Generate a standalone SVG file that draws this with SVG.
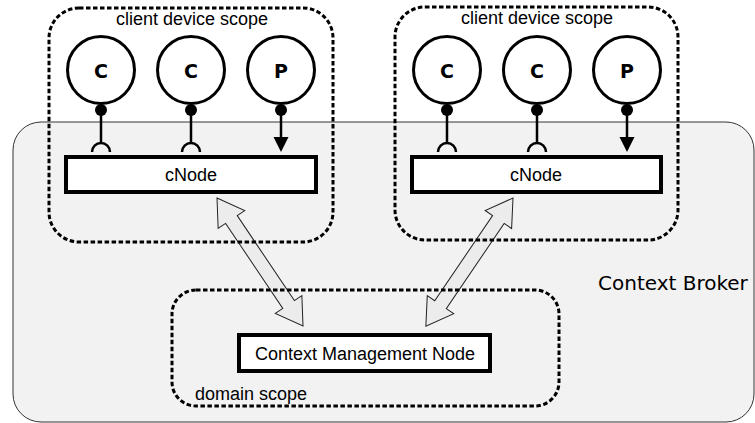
<svg xmlns="http://www.w3.org/2000/svg" width="755" height="423" viewBox="0 0 755 423">
  <defs>
    <style>
      .broker { fill: #f2f2f2; stroke: #333; stroke-width: 1; }
      .scope { fill: none; stroke: #000; stroke-width: 3; stroke-dasharray: 4.5 2.5; }
      .comp { fill: #fff; stroke: #000; stroke-width: 3; }
      .box { fill: #fff; stroke: #000; stroke-width: 4; }
      .lbl { font-family: "Liberation Sans", Arial, sans-serif; font-size: 18px; fill: #000; }
      .big { font-family: "DejaVu Sans", sans-serif; font-size: 20px; fill: #000; }
      .letter { font-family: "DejaVu Sans", sans-serif; font-weight: bold; font-size: 19px; fill: #000; text-anchor: middle; }
      .wire { stroke: #000; stroke-width: 2.5; fill: none; }
      .ball { fill: #000; }
      .dbl { fill: #ececec; stroke: #222; stroke-width: 1; stroke-linejoin: miter; }
    </style>
    <!-- provided interface: ball on the component, line down to a socket -->
    <g id="req">
      <circle class="ball" cx="0" cy="110" r="6"/>
      <line class="wire" x1="0" y1="110" x2="0" y2="143"/>
      <path class="wire" d="M -9 152 A 9 9 0 0 1 9 152"/>
    </g>
    <!-- publishing interface: ball, line and arrowhead into the node -->
    <g id="pub">
      <circle class="ball" cx="0" cy="110" r="6"/>
      <line class="wire" x1="0" y1="110" x2="0" y2="139"/>
      <polygon fill="#000" points="-7.5,137 7.5,137 0,152"/>
    </g>
    <!-- double-headed block arrow, length 155, along +x -->
    <polygon id="dblArrow" class="dbl" points="0,0 26,-16 26,-7 129,-7 129,-16 155,0 129,16 129,7 26,7 26,16"/>
  </defs>

  <g id="context-broker">
    <rect class="broker" x="13" y="122" width="741" height="300" rx="28" ry="28"/>
    <text class="big" x="598" y="290">Context Broker</text>
  </g>

  <g id="connectors">
    <use href="#dblArrow" transform="translate(217,198) rotate(56.1) scale(0.995,1)"/>
    <use href="#dblArrow" transform="translate(513,198) rotate(124.2)"/>
  </g>

  <g id="client-scope-left">
    <rect class="scope" x="49" y="8" width="284" height="234" rx="30" ry="30"/>
    <text class="lbl" x="192" y="25" text-anchor="middle">client device scope</text>
  </g>

  <g id="client-scope-right">
    <rect class="scope" x="395" y="7" width="283" height="233" rx="30" ry="30"/>
    <text class="lbl" x="537" y="24" text-anchor="middle">client device scope</text>
  </g>

  <g id="domain-scope">
    <rect class="scope" x="172" y="290" width="387" height="116" rx="24" ry="24"/>
    <text class="lbl" x="195" y="400">domain scope</text>
  </g>

  <g id="cnode-left">
    <rect class="box" x="66" y="157" width="250" height="35"/>
    <text class="lbl" x="191" y="181" text-anchor="middle">cNode</text>
  </g>

  <g id="cnode-right">
    <rect class="box" x="412" y="157" width="249" height="35"/>
    <text class="lbl" x="536" y="181" text-anchor="middle">cNode</text>
  </g>

  <g id="cmn">
    <rect class="box" x="239" y="335" width="251" height="36"/>
    <text class="lbl" x="365" y="360" text-anchor="middle">Context Management Node</text>
  </g>

  <g id="c1-left">
    <use href="#req" x="101"/>
    <circle class="comp" cx="101" cy="70" r="33.5"/>
    <text class="letter" x="101" y="78">C</text>
  </g>
  <g id="c2-left">
    <use href="#req" x="191"/>
    <circle class="comp" cx="191" cy="70" r="33.5"/>
    <text class="letter" x="191" y="78">C</text>
  </g>
  <g id="p-left">
    <use href="#pub" x="281"/>
    <circle class="comp" cx="281" cy="70" r="33.5"/>
    <text class="letter" x="281" y="78">P</text>
  </g>

  <g id="c1-right">
    <use href="#req" x="447"/>
    <circle class="comp" cx="447" cy="70" r="33.5"/>
    <text class="letter" x="447" y="78">C</text>
  </g>
  <g id="c2-right">
    <use href="#req" x="537"/>
    <circle class="comp" cx="537" cy="70" r="33.5"/>
    <text class="letter" x="537" y="78">C</text>
  </g>
  <g id="p-right">
    <use href="#pub" x="627"/>
    <circle class="comp" cx="627" cy="70" r="33.5"/>
    <text class="letter" x="627" y="78">P</text>
  </g>
</svg>
